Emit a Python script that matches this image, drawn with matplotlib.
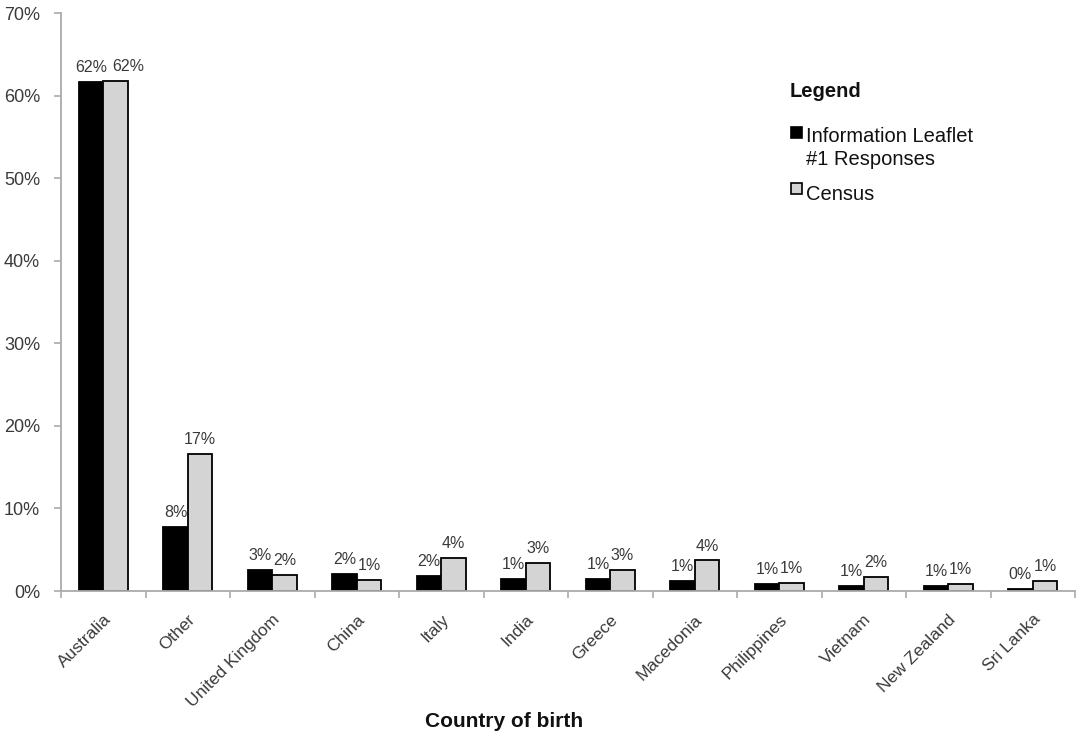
import matplotlib
matplotlib.use("Agg")
import matplotlib.pyplot as plt
import numpy as np
from matplotlib.patches import Rectangle

plt.rcParams['font.family'] = ['Liberation Sans', 'DejaVu Sans']

categories = ["Australia", "Other", "United Kingdom", "China", "Italy", "India",
              "Greece", "Macedonia", "Philippines", "Vietnam", "New Zealand", "Sri Lanka"]
leaflet = [61.7, 7.7, 2.6, 2.1, 1.8, 1.5, 1.5, 1.2, 0.8, 0.6, 0.6, 0.3]
census = [61.8, 16.6, 1.9, 1.3, 4.0, 3.4, 2.6, 3.7, 1.0, 1.7, 0.9, 1.2]
leaflet_labels = ["62%", "8%", "3%", "2%", "2%", "1%", "1%", "1%", "1%", "1%", "1%", "0%"]
census_labels = ["62%", "17%", "2%", "1%", "4%", "3%", "3%", "4%", "1%", "2%", "1%", "1%"]
yticks = [0, 10, 20, 30, 40, 50, 60, 70]
ytick_labels = ["0%", "10%", "20%", "30%", "40%", "50%", "60%", "70%"]
series_names = ["Information Leaflet\n#1 Responses", "Census"]
series_colors = ["black", "#d4d4d4"]

W, H = 1079, 733
fig = plt.figure(figsize=(W / 100, H / 100), dpi=100)
ax = fig.add_axes([61 / W, (H - 591) / H, (1075 - 61) / W, (591 - 13) / H])

x = np.arange(len(categories))
w = 0.29
ax.bar(x - w/2, leaflet, w, color=series_colors[0], edgecolor='black', linewidth=1.3)
ax.bar(x + w/2, census, w, color=series_colors[1], edgecolor='black', linewidth=1.3)

lab_col = '#3a3a3a'
for i in range(len(categories)):
    # avoid overlap when both bars are nearly the same (tall) height
    close = abs(leaflet[i] - census[i]) < 2 and leaflet[i] > 10
    dx = 9 if close else 0
    ax.annotate(leaflet_labels[i], (x[i] - w/2, leaflet[i]), xytext=(0, 5),
                textcoords='offset points', ha='center', va='bottom', fontsize=11.5, color=lab_col)
    ax.annotate(census_labels[i], (x[i] + w/2, census[i]), xytext=(dx, 5),
                textcoords='offset points', ha='center', va='bottom', fontsize=11.5, color=lab_col)

ax.set_xlim(-0.5, len(categories) - 0.5)
ax.set_ylim(0, 70)
ax.set_yticks(yticks)
ax.set_yticklabels(ytick_labels, fontsize=13, color=lab_col)

ax.set_xticks(x)
ax.set_xticklabels(categories, rotation=45, ha='right', rotation_mode='anchor',
                   fontsize=12.5, color=lab_col)
ax.tick_params(axis='x', length=0, pad=15)
ax.set_xticks(np.arange(-0.5, len(categories) + 0.5, 1), minor=True)
ax.tick_params(axis='x', which='minor', length=5, color='#aaaaaa', width=1.2)
ax.tick_params(axis='y', length=5, color='#aaaaaa', width=1.2, pad=10)

for s in ['top', 'right']:
    ax.spines[s].set_visible(False)
for s in ['left', 'bottom']:
    ax.spines[s].set_color('#aaaaaa')
    ax.spines[s].set_linewidth(1.3)

ax.set_xlabel("Country of birth", fontsize=15, fontweight='bold', color='#111111')
ax.xaxis.set_label_coords(504 / W, (H - 727) / H, transform=fig.transFigure)
ax.xaxis.label.set_va('baseline')

# legend (drawn manually to keep the square aligned with the first text line)
fig.text(790 / W, 1 - 97 / H, "Legend", fontsize=14.5, fontweight='bold',
         ha='left', va='baseline', color='#111111')
entry_baselines = [142, 200]
entry_square_tops = [127, 183]
for name, col, bl, st in zip(series_names, series_colors, entry_baselines, entry_square_tops):
    fig.patches.append(Rectangle((791 / W, 1 - (st + 11) / H), 11 / W, 11 / H,
                                 transform=fig.transFigure, facecolor=col,
                                 edgecolor='black', linewidth=1.2))
    fig.text(806 / W, 1 - bl / H, name.split("\n")[0], fontsize=14.5,
             ha='left', va='baseline', color='#111111')
    if "\n" in name:
        fig.text(806 / W, 1 - (bl + 23) / H, name.split("\n")[1], fontsize=14.5,
                 ha='left', va='baseline', color='#111111')

fig.savefig("out.png", dpi=100)
